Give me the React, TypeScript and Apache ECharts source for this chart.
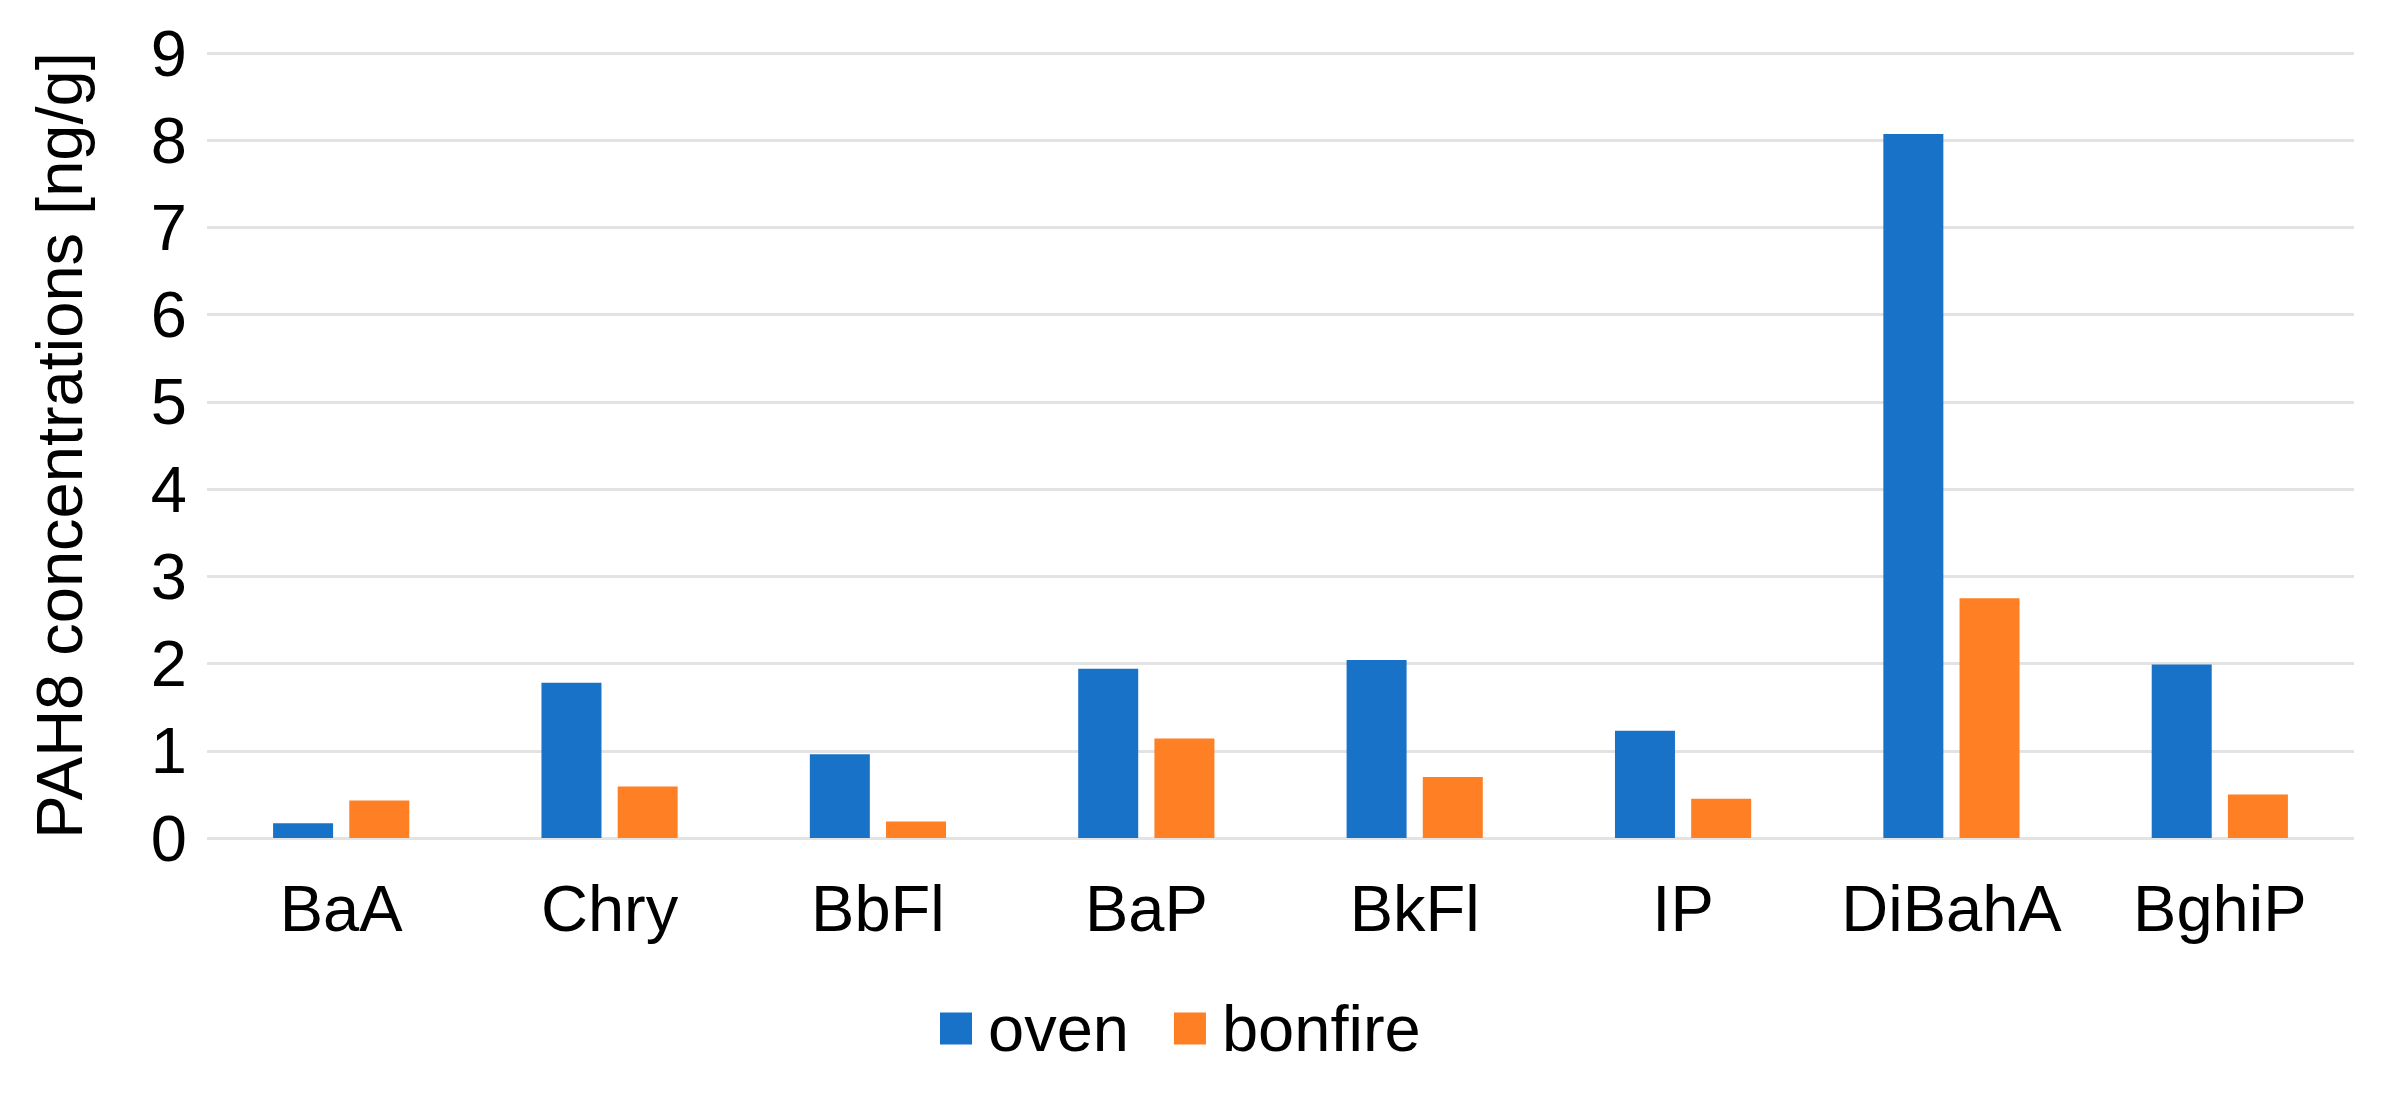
import React, { useEffect, useRef } from "react";
import * as echarts from "echarts";

const categories = ["BaA", "Chry", "BbFl", "BaP", "BkFl", "IP", "DiBahA", "BghiP"];
const ovenValues = [0.17, 1.78, 0.96, 1.94, 2.04, 1.23, 8.07, 1.99];
const bonfireValues = [0.43, 0.59, 0.19, 1.14, 0.7, 0.45, 2.75, 0.5];
const yTicks = [0, 1, 2, 3, 4, 5, 6, 7, 8, 9];
const seriesNames = ["oven", "bonfire"];
const yAxisTitle = "PAH8 concentrations [ng/g]";

const FONT = "'Liberation Sans', Arial, sans-serif";

export default function App() {
  const ref = useRef<HTMLDivElement>(null);
  useEffect(() => {
    document.body.style.margin = "0";
    if (!ref.current) return;
    const chart = echarts.init(ref.current, null, { renderer: "svg" });
    chart.setOption({
      animation: false,
      backgroundColor: "#ffffff",
      textStyle: { fontFamily: FONT, color: "#000" },
      grid: { left: 207, right: 36, top: 53, bottom: 259, containLabel: false },
      legend: {
        data: seriesNames,
        left: 940,
        top: 996,
        padding: 0,
        itemWidth: 32,
        itemHeight: 32,
        itemGap: 45,
        icon: "rect",
        textStyle: { fontSize: 65, color: "#000", fontFamily: FONT, padding: [0, 0, 0, 11] },
      },
      xAxis: {
        type: "category",
        data: categories,
        axisLine: { show: false },
        axisTick: { show: false },
        axisLabel: {
          interval: 0,
          fontSize: 65,
          color: "#000",
          fontFamily: FONT,
          margin: 38,
          verticalAlign: "top",
          lineHeight: 65,
        },
        splitLine: { show: false },
      },
      yAxis: {
        type: "value",
        min: yTicks[0],
        max: yTicks[yTicks.length - 1],
        interval: 1,
        name: yAxisTitle,
        nameLocation: "middle",
        nameGap: 115,
        nameTextStyle: { fontSize: 65, color: "#000", fontFamily: FONT },
        axisLine: { show: false },
        axisTick: { show: false },
        axisLabel: { fontSize: 65, color: "#000", fontFamily: FONT, margin: 20 },
        splitLine: { show: true, lineStyle: { color: "#E3E3E3", width: 3 } },
      },
      series: [
        {
          name: seriesNames[0],
          type: "bar",
          data: ovenValues,
          barWidth: 60,
          barGap: "27%",
          itemStyle: { color: "#1872C8" },
        },
        {
          name: seriesNames[1],
          type: "bar",
          data: bonfireValues,
          barWidth: 60,
          barGap: "27%",
          itemStyle: { color: "#FF7F24" },
        },
      ],
    });
    return () => chart.dispose();
  }, []);
  return <div ref={ref} style={{ width: 2390, height: 1097 }} />;
}
